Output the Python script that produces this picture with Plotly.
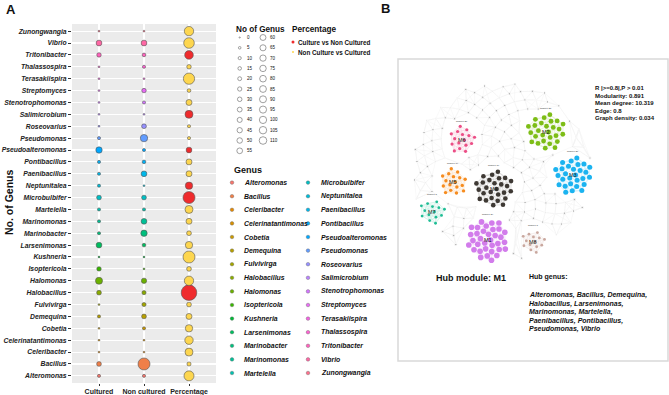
import math
import numpy as np
import plotly.graph_objects as go

# ---------------- Panel A data ----------------
genera = ["Alteromonas", "Bacillus", "Celeribacter", "Celerinatantimonas", "Cobetia",
          "Demequina", "Fulvivirga", "Halobacillus", "Halomonas", "Isoptericola",
          "Kushneria", "Larsenimonas", "Marinobacter", "Marinomonas", "Martelella",
          "Microbulbifer", "Neptunitalea", "Paenibacillus", "Pontibacillus", "Pseudoalteromonas",
          "Pseudomonas", "Roseovarius", "Salimicrobium", "Stenotrophomonas", "Streptomyces",
          "Terasakiispira", "Thalassospira", "Tritonibacter", "Vibrio", "Zunongwangia"]
cultured = [1, 5, 0, 0, 0, 1, 0, 5, 16, 4, 0, 9, 1, 1, 1, 5, 1, 1, 1, 12,
            1, 0, 0, 0, 0, 0, 0, 4, 9, 0]
non_cultured = [1, 60, 0, 0, 1, 5, 3, 3, 7, 0, 0, 2, 12, 9, 1, 5, 0, 9, 2, 1,
                18, 5, 0, 1, 4, 0, 1, 2, 9, 0]
percentage = [39, 3, 22, 25, 18, 10, 5, 110, 33, 5, 60, 18, 5, 10, 22, 60, 18, 10, 10, 9,
              1, 1, 22, 10, 2, 52, 4, 27, 45, 33]
pct_group = ["N", "N", "N", "N", "N", "N", "N", "C", "N", "N", "N", "N", "N", "N", "N",
             "C", "C", "N", "N", "C", "N", "N", "C", "N", "N", "N", "N", "C", "N", "N"]
x_labels = ["Cultured", "Non cultured", "Percentage"]
size_breaks_1 = [0, 5, 10, 15, 20, 25, 30, 35, 40, 45, 50, 55]
size_breaks_2 = [60, 65, 70, 75, 80, 85, 90, 95, 100, 105, 110]
pct_labels = ["Culture vs Non Cultured", "Non Culture vs Cultured"]

# ---------------- Panel B data ----------------
module_names = ["M1", "M2", "M3", "M4", "M5", "M6", "M7", "M8"]
module_nodes = [34, 27, 28, 27, 17, 16, 14, 14]
module_degree = ["degree 24", "degree 23", "degree 20", "degree 19", "degree 14",
                 "degree 20", "degree 8", "degree 8"]
stats_lines = ["R |>=0.8|,P > 0.01", "Modularity: 0.891", "Mean degree: 10.319",
               "Edge: 0.8", "Graph density: 0.034"]
hub_genus_lines = ["Alteromonas, Bacillus, Demequina,", "Halobacillus, Larsenimonas,",
                   "Marinomonas, Martelella,", "Paenibacillus, Pontibacillus,",
                   "Pseudomonas, Vibrio"]

# ---------------- styles / layout config ----------------
FONT = "Liberation Sans, Arial, sans-serif"
RED = "#EF2B2D"
YELLOW = "#FDD64F"
module_colors = ["#D27CEB", "#7DBD16", "#1BB3F0", "#3E3934", "#F68C1F", "#EC4E86",
                 "#1FBD95", "#C9A79E"]
module_center = [(488, 240), (546, 132), (573, 175), (494, 189), (453, 182), (462, 140),
                 (432, 212), (533, 242)]
module_radius = [21, 19, 19, 19, 14, 14, 13, 12]
module_node_size = [5.6, 4.8, 5.0, 4.6, 3.4, 3.2, 2.8, 2.8]
net_center = (501, 171)
net_radius = 90


def hcl_hex(h, c=100.0, l=65.0):
    Y = ((l + 16) / 116) ** 3
    Xn, Yn, Zn = 0.95047, 1.0, 1.08883
    den = Xn + 15 * Yn + 3 * Zn
    un, vn = 4 * Xn / den, 9 * Yn / den
    hr = math.radians(h)
    u, v = c * math.cos(hr), c * math.sin(hr)
    up, vp = u / (13 * l) + un, v / (13 * l) + vn
    X = Y * 9 * up / (4 * vp)
    Z = Y * (12 - 3 * up - 20 * vp) / (4 * vp)
    r = 3.2404542 * X - 1.5371385 * Y - 0.4985314 * Z
    g = -0.9692660 * X + 1.8760108 * Y + 0.0415560 * Z
    b = 0.0556434 * X - 0.2040259 * Y + 1.0572252 * Z
    out = []
    for ch in (r, g, b):
        ch = 12.92 * ch if ch <= 0.0031308 else 1.055 * ch ** (1 / 2.4) - 0.055
        out.append(int(round(min(max(ch, 0), 1) * 255)))
    return "#%02X%02X%02X" % tuple(out)


n_gen = len(genera)
genus_colors = [hcl_hex(15 + 360 / n_gen * i) for i in range(n_gen)]


def diam(v):
    return 1.8 + 13.8 * math.sqrt(v / 110.0)


def leg_diam(v):
    return 1.2 + 6.4 * math.sqrt(v / 110.0)


fig = go.Figure()
ypos = list(range(1, n_gen + 1))
OUTLINE = dict(color="#555555", width=0.6)

# Panel A bubbles
fig.add_trace(go.Scatter(x=[1] * n_gen, y=ypos, mode="markers",
                         marker=dict(size=[diam(v) for v in cultured], color=genus_colors,
                                     line=OUTLINE, opacity=1),
                         showlegend=False, hoverinfo="skip"))
fig.add_trace(go.Scatter(x=[2] * n_gen, y=ypos, mode="markers",
                         marker=dict(size=[diam(v) for v in non_cultured], color=genus_colors,
                                     line=OUTLINE, opacity=1),
                         showlegend=False, hoverinfo="skip"))
fig.add_trace(go.Scatter(x=[3] * n_gen, y=ypos, mode="markers",
                         marker=dict(size=[diam(v) for v in percentage],
                                     color=[RED if g == "C" else YELLOW for g in pct_group],
                                     line=OUTLINE, opacity=1),
                         showlegend=False, hoverinfo="skip"))

# ---------------- Legends (pixel axis x2/y2) ----------------
ann = []


def txt(x, y, s, size, bold=False, italic=False, xanchor="left", color="#111111", angle=0):
    if italic:
        s = "<i>" + s + "</i>"
    if bold:
        s = "<b>" + s + "</b>"
    ann.append(dict(x=x, y=y, xref="x2", yref="y2", text=s, showarrow=False,
                    xanchor=xanchor, yanchor="middle", textangle=angle,
                    font=dict(family=FONT, size=size, color=color)))


txt(11, 9, "A", 13, bold=True, xanchor="center")
txt(385, 8, "B", 13, bold=True, xanchor="center")
txt(9, 203, "No. of Genus", 10.5, bold=True, xanchor="center", angle=-90)

# No of Genus legend
txt(234, 29.5, "No of Genus", 8.2, bold=True)
ly1 = [37.5 + 10.3 * i for i in range(len(size_breaks_1))]
ly2 = [37.5 + 10.3 * i for i in range(len(size_breaks_2))]
fig.add_trace(go.Scatter(x=[239.7] * len(size_breaks_1), y=ly1, xaxis="x2", yaxis="y2",
                         mode="markers",
                         marker=dict(size=[leg_diam(v) for v in size_breaks_1], color="white",
                                     line=dict(color="#777777", width=0.7), opacity=1),
                         showlegend=False, hoverinfo="skip"))
fig.add_trace(go.Scatter(x=[263] * len(size_breaks_2), y=ly2, xaxis="x2", yaxis="y2",
                         mode="markers",
                         marker=dict(size=[leg_diam(v) for v in size_breaks_2], color="white",
                                     line=dict(color="#777777", width=0.7), opacity=1),
                         showlegend=False, hoverinfo="skip"))
for v, y in zip(size_breaks_1, ly1):
    txt(245, y, str(v), 4.5)
for v, y in zip(size_breaks_2, ly2):
    txt(268, y, str(v), 4.5)

# Percentage legend
txt(290, 29.5, "Percentage", 8.2, bold=True)
fig.add_trace(go.Scatter(x=[293, 293], y=[42, 52], xaxis="x2", yaxis="y2", mode="markers",
                         marker=dict(size=[3, 2], color=[RED, YELLOW], line=dict(width=0),
                                     opacity=1),
                         showlegend=False, hoverinfo="skip"))
txt(296, 42, pct_labels[0], 6.3, bold=True)
txt(296, 52, pct_labels[1], 6.3, bold=True)

# Genus legend
txt(232, 170, "Genus", 9, bold=True)
half = 15
gx = [232 if i < half else 308 for i in range(n_gen)]
gy = [182.6 + 13.6 * (i % half) for i in range(n_gen)]
fig.add_trace(go.Scatter(x=gx, y=gy, xaxis="x2", yaxis="y2", mode="markers",
                         marker=dict(size=3.6, color=genus_colors,
                                     line=dict(color="#666666", width=0.4), opacity=1),
                         showlegend=False, hoverinfo="skip"))
for i, g in enumerate(genera):
    txt(gx[i] + 10 if i < half else gx[i] + 11, gy[i], g, 6.9, bold=True, italic=True)

# ---------------- Panel B network ----------------
golden = math.pi * (3 - math.sqrt(5))


def sunflower(n, R, cx, cy, rot=0.0):
    pts = []
    for i in range(n):
        r = R * math.sqrt((i + 0.5) / n)
        t = i * golden + rot
        pts.append((cx + r * math.cos(t), cy + r * math.sin(t)))
    return pts


def knn_edges(pts, k):
    ex, ey = [], []
    arr = np.array(pts)
    for i in range(len(pts)):
        d = np.hypot(arr[:, 0] - arr[i, 0], arr[:, 1] - arr[i, 1])
        for j in np.argsort(d)[1:k + 1]:
            ex += [arr[i, 0], arr[j, 0], None]
            ey += [arr[i, 1], arr[j, 1], None]
    return ex, ey


# background nodes
bg_all = sunflower(260, net_radius, net_center[0], net_center[1], rot=0.3)
bg = []
for p in bg_all:
    ok = True
    for c, r in zip(module_center, module_radius):
        if math.hypot(p[0] - c[0], p[1] - c[1]) < r + 5:
            ok = False
            break
    if ok:
        bg.append(p)
ex, ey = knn_edges(bg, 4)
fig.add_trace(go.Scatter(x=ex, y=ey, xaxis="x2", yaxis="y2", mode="lines",
                         line=dict(color="#F0F0F0", width=0.4),
                         showlegend=False, hoverinfo="skip"))
fig.add_trace(go.Scatter(x=[p[0] for p in bg], y=[p[1] for p in bg], xaxis="x2", yaxis="y2",
                         mode="markers",
                         marker=dict(size=[2.4 if i % 3 else 1.5 for i in range(len(bg))],
                                     color=["#B3B3B3" if i % 3 else "#D2D2D2" for i in range(len(bg))],
                                     opacity=1),
                         showlegend=False, hoverinfo="skip"))

for m in range(len(module_names)):
    cx, cy = module_center[m]
    pts = sunflower(module_nodes[m], module_radius[m], cx, cy)
    ex, ey = knn_edges(pts, 8)
    fig.add_trace(go.Scatter(x=ex, y=ey, xaxis="x2", yaxis="y2", mode="lines",
                             line=dict(color=module_colors[m], width=0.4), opacity=0.22,
                             showlegend=False, hoverinfo="skip"))
    fig.add_trace(go.Scatter(x=[p[0] for p in pts], y=[p[1] for p in pts], xaxis="x2", yaxis="y2",
                             mode="markers",
                             marker=dict(size=module_node_size[m], color=module_colors[m], opacity=1),
                             showlegend=False, hoverinfo="skip"))
    txt(cx, cy, module_names[m], 5.5, color="#222222", xanchor="center")
    txt(cx, cy - module_radius[m] - 5, module_degree[m], 2.5, color="#333333", xanchor="center")

for i, s in enumerate(stats_lines):
    txt(593, 88 + 7.6 * i, s, 6, bold=True)
txt(434, 278, "Hub module: M1", 9, bold=True)
txt(527, 277, "Hub genus:", 7, bold=True)
for i, s in enumerate(hub_genus_lines):
    txt(527, 295 + 8.6 * i, s, 7, bold=True, italic=True)

shapes = [
    dict(type="rect", xref="x domain", yref="y domain", x0=0, x1=1, y0=0, y1=1,
         fillcolor="#EBEBEB", line=dict(width=0), layer="below"),
    dict(type="rect", xref="x2", yref="y2", x0=398, x1=668, y0=59, y1=361,
         fillcolor="rgba(0,0,0,0)", line=dict(color="#D9D9D9", width=1.5), layer="below"),
]

W, H = 669, 395
fig.update_layout(
    width=W, height=H, margin=dict(l=0, r=0, t=0, b=0, pad=0),
    paper_bgcolor="white", plot_bgcolor="rgba(0,0,0,0)",
    showlegend=False, annotations=ann, shapes=shapes,
    xaxis=dict(domain=[72 / W, 216 / W], range=[0.4, 3.6], tickvals=[1, 2, 3],
               ticktext=["<b>" + s + "</b>" for s in x_labels], showgrid=True,
               gridcolor="white", gridwidth=1.1, zeroline=False, ticks="outside", ticklen=2,
               tickcolor="#333333", tickfont=dict(family=FONT, size=7, color="#222222"),
               showline=False, fixedrange=True, automargin=False),
    yaxis=dict(domain=[12 / H, 371 / H], range=[0.4, n_gen + 0.6], tickvals=ypos,
               ticktext=["<b><i>" + g + "</i></b>" for g in genera], showgrid=True,
               gridcolor="white", gridwidth=1.1, zeroline=False, ticks="outside", ticklen=3,
               tickcolor="#333333", tickfont=dict(family=FONT, size=6.8, color="#222222"),
               showline=False, fixedrange=True, automargin=False),
    xaxis2=dict(domain=[0, 1], range=[0, W], visible=False, fixedrange=True, automargin=False),
    yaxis2=dict(domain=[0, 1], range=[H, 0], visible=False, fixedrange=True, automargin=False),
)

fig.write_html("out.html", config={"displayModeBar": False, "staticPlot": True},
               post_script="document.body.style.margin='0';document.body.style.padding='0';"
                           "document.body.style.overflow='hidden';")
